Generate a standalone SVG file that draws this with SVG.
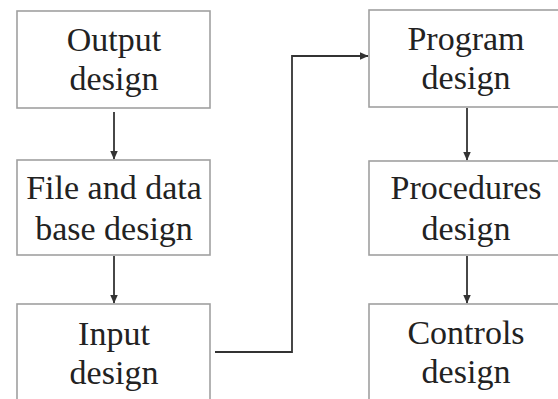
<svg xmlns="http://www.w3.org/2000/svg" width="558" height="399" viewBox="0 0 558 399">
<style>
.box{fill:#fff;stroke:#a0a0a0;stroke-width:1.6}
.t{font-size:34px;fill:#222;text-anchor:middle}
.c{fill:none;stroke:#333;stroke-width:1.8}
</style>
<defs>
<marker id="ah" markerWidth="9" markerHeight="8" refX="8.5" refY="4" orient="auto" markerUnits="userSpaceOnUse">
<path d="M0,0 L9,4 L0,8 Z" fill="#333"/>
</marker>
</defs>
<rect width="558" height="399" fill="#fff"/>
<g font-family="'Liberation Serif', 'Times New Roman', Times, serif">
<g id="output-design"><rect class="box" x="17" y="11" width="193" height="97"/><text class="t" x="114" y="51">Output</text><text class="t" x="114" y="90">design</text></g>
<g id="file-design"><rect class="box" x="17" y="160" width="193" height="95"/><text class="t" x="114" y="199">File and data</text><text class="t" x="114" y="240">base design</text></g>
<g id="input-design"><rect class="box" x="17" y="304" width="193" height="110"/><text class="t" x="114" y="345">Input</text><text class="t" x="114" y="384">design</text></g>
<g id="program-design"><rect class="box" x="369" y="10" width="194" height="97"/><text class="t" x="466" y="50">Program</text><text class="t" x="466" y="89">design</text></g>
<g id="procedures-design"><rect class="box" x="369" y="161" width="194" height="94"/><text class="t" x="466" y="199">Procedures</text><text class="t" x="466" y="240">design</text></g>
<g id="controls-design"><rect class="box" x="369" y="304" width="194" height="110"/><text class="t" x="466" y="344">Controls</text><text class="t" x="466" y="383">design</text></g>
</g>
<g id="connectors">
<line class="c" x1="114" y1="112" x2="114" y2="159" marker-end="url(#ah)"/>
<line class="c" x1="114" y1="256" x2="114" y2="303" marker-end="url(#ah)"/>
<line class="c" x1="467" y1="108" x2="467" y2="160" marker-end="url(#ah)"/>
<line class="c" x1="467" y1="256" x2="467" y2="303" marker-end="url(#ah)"/>
<polyline class="c" points="215,352 292,352 292,56 368,56" marker-end="url(#ah)"/>
</g>
</svg>
